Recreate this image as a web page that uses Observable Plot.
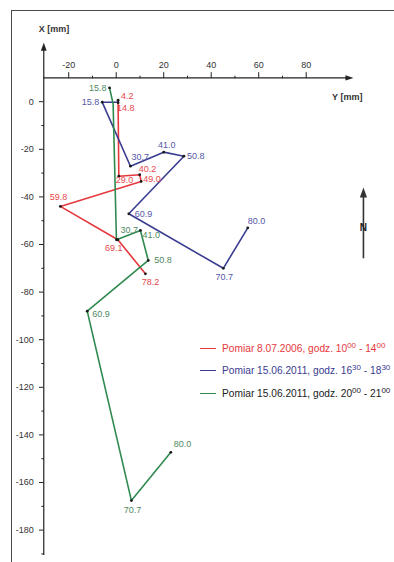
<!DOCTYPE html>
<html><head><meta charset="utf-8">
<script src="https://cdn.jsdelivr.net/npm/d3@7"></script>
<script src="https://cdn.jsdelivr.net/npm/@observablehq/plot@0.6"></script>
<style>
html,body{margin:0;padding:0;background:#fff;overflow:hidden;}
#wrap{position:relative;width:394px;height:562px;overflow:hidden;font-family:"Liberation Sans",Arial,sans-serif;}
#frame{position:absolute;left:11px;top:10px;width:600px;height:700px;border:1px solid #4a4a4a;pointer-events:none;}
.leg{position:absolute;left:200px;font-size:10.2px;line-height:12px;white-space:nowrap;}
.leg i{display:inline-block;width:16px;height:1.6px;vertical-align:middle;margin-right:6px;position:relative;top:-1px;}
.leg sup{font-size:8px;vertical-align:4px;line-height:0;}
</style>
</head><body>
<div id="wrap"><div id="chart"></div><div id="frame"></div><div id="legend"></div></div>
<script>
// ---- data (Y = horizontal [mm], X = vertical [mm]) ----
const redLabels = ["4.2","14.8","29.0","40.2","49.0","59.8","69.1","78.2"];
const redY = [0.8, 0.8, 1.1, 9.9, 10.5, -23.5, 0.7, 12.3];
const redX = [0.6, -0.4, -31.3, -30.7, -33.5, -44.0, -58.0, -72.3];

const blueLabels = ["", "15.8","30.7","41.0","50.8","60.9","70.7","80.0"];
const blueY = [0.8, -5.9, 6.0, 20.0, 28.5, 5.3, 45.1, 55.4];
const blueX = [-0.2, -0.2, -27.1, -21.2, -22.9, -47.1, -70.0, -53.0];

const greenLabels = ["15.8", "", "30.7","41.0","50.8","60.9","70.7","80.0"];
const greenY = [-2.8, -1.3, 0.1, 10.2, 13.5, -12.2, 6.4, 23.0];
const greenX = [5.8, -0.9, -58.0, -54.1, -66.7, -88.0, -167.6, -147.3];

const legendNames = ["Pomiar  8.07.2006, godz. 10<sup>00</sup> - 14<sup>00</sup>",
  "Pomiar 15.06.2011, godz. 16<sup>30</sup> - 18<sup>30</sup>",
  "Pomiar 15.06.2011, godz. 20<sup>00</sup> - 21<sup>00</sup>"];

const hTicks = [-20, 0, 20, 40, 60, 80];
const hMinor = [-10, 10, 30, 50, 70];
const vTicks = [0, -20, -40, -60, -80, -100, -120, -140, -160, -180];
const vMinor = [-10, -30, -50, -70, -90, -110, -130, -150, -170, -190];

// ---- layout / style ----
const colors = {red: "#e5383c", blue: "#3a3c90", green: "#2f8a50"};
const labelColors = {red: "#e6484b", blue: "#5657a8", green: "#4f8a62"};
const legendTextColors = ["#e5383c", "#3a3c90", "#222"];
const legendTops = [343, 365, 388];
// label placement per point: [anchor, dx, dy]
const redPlace = [["start",3,-4],["start",-1,5],["start",-3,4],["start",-1,-6],["start",2,-2],["middle",-2,-9],["middle",-4,8],["middle",5,8]];
const bluePlace = [null,["end",-3,0],["start",1,-9],["middle",3,-7],["start",3,0],["start",6,0],["middle",1,9],["start",0,-7]];
const greenPlace = [["end",-3,0],null,["start",4,-10],["start",2,5],["start",6,0],["start",5,3],["middle",1,10],["start",3,-8]];

const AXIS_X = 10, AXIS_Y = -30.5;
const V_END = -190.7, V_TIP = 24.8, H_TIP = 99.9;
const NORTH = {y: 104.1, x1: -66, x2: -36, n: -53};

const mk = (labels, ys, xs, place) => labels.map((l, i) => ({label: l, y: ys[i], x: xs[i], place: place[i]}));
const series = {
  red: mk(redLabels, redY, redX, redPlace),
  blue: mk(blueLabels, blueY, blueX, bluePlace),
  green: mk(greenLabels, greenY, greenX, greenPlace)
};

const arrowUp = {draw(ctx, size){ const r = Math.sqrt(size/Math.PI); ctx.moveTo(0,0); ctx.lineTo(-r*0.36, r); ctx.lineTo(r*0.36, r); ctx.closePath(); }};
const arrowRight = {draw(ctx, size){ const r = Math.sqrt(size/Math.PI); ctx.moveTo(0,0); ctx.lineTo(-r, -r*0.32); ctx.lineTo(-r, r*0.32); ctx.closePath(); }};

const font = "Liberation Sans, Arial, sans-serif";
const marks = [];
// axes
marks.push(Plot.ruleY([AXIS_X], {x1: AXIS_Y, x2: H_TIP - 2, stroke: "#222", strokeWidth: 1.2}));
marks.push(Plot.ruleX([AXIS_Y], {y1: V_END, y2: V_TIP - 2, stroke: "#222", strokeWidth: 1.2}));
marks.push(Plot.dot([0], {x: H_TIP, y: AXIS_X, r: 8, symbol: arrowRight, fill: "#222", stroke: "none"}));
marks.push(Plot.dot([0], {x: AXIS_Y, y: V_TIP, r: 8, symbol: arrowUp, fill: "#222", stroke: "none"}));
marks.push(Plot.ruleX(hTicks, {x: d => d, y1: AXIS_X - 0.3, y2: AXIS_X + 2.2, stroke: "#222"}));
marks.push(Plot.ruleX(hMinor, {x: d => d, y1: AXIS_X - 0.4, y2: AXIS_X + 0.7, stroke: "#222"}));
marks.push(Plot.ruleY(vTicks, {y: d => d, x1: AXIS_Y - 1.8, x2: AXIS_Y, stroke: "#222"}));
marks.push(Plot.ruleY(vMinor, {y: d => d, x1: AXIS_Y - 0.8, x2: AXIS_Y + 0.3, stroke: "#222"}));
marks.push(Plot.text(hTicks, {x: d => d, y: AXIS_X, dy: -12.5, text: d => String(d), fontSize: 9, fill: "#333", fontFamily: font}));
marks.push(Plot.text(vTicks, {x: AXIS_Y, y: d => d, dx: -10, text: d => String(d), textAnchor: "end", fontSize: 9, fill: "#333", fontFamily: font}));
marks.push(Plot.text(["X [mm]"], {x: AXIS_Y, y: V_TIP, dx: -5, dy: -14, text: d => d, textAnchor: "start", fontSize: 9, fontWeight: "bold", fill: "#333", fontFamily: font}));
marks.push(Plot.text(["Y [mm]"], {x: H_TIP, y: AXIS_X, dx: 9, dy: 19, text: d => d, textAnchor: "end", fontSize: 9, fontWeight: "bold", fill: "#333", fontFamily: font}));
// north arrow
marks.push(Plot.ruleX([NORTH.y], {y1: NORTH.x1, y2: NORTH.x2 - 2, stroke: "#333", strokeWidth: 1.6}));
marks.push(Plot.dot([0], {x: NORTH.y, y: NORTH.x2, r: 10, symbol: arrowUp, fill: "#333", stroke: "none"}));
marks.push(Plot.text(["N"], {x: NORTH.y, y: NORTH.n, text: d => d, fontSize: 10, fontWeight: "bold", fill: "#222", fontFamily: font}));
// series
for (const key of ["red", "blue", "green"]) {
  const data = series[key];
  marks.push(Plot.line(data, {x: "y", y: "x", stroke: colors[key], strokeWidth: 1.6, curve: "linear"}));
}
for (const key of ["red", "blue", "green"]) {
  const data = series[key].filter(d => d.label);
  marks.push(Plot.dot(data, {x: "y", y: "x", r: 1.4, fill: "#1a1a1a", stroke: "none"}));
  for (const d of data) {
    const [anchor, dx, dy] = d.place;
    marks.push(Plot.text([d], {x: "y", y: "x", text: "label", textAnchor: anchor, dx, dy, fontSize: 9, fill: labelColors[key], fontFamily: font}));
  }
}

const chart = Plot.plot({
  width: 394, height: 562,
  marginTop: 0, marginRight: 0, marginBottom: 0, marginLeft: 0,
  x: {domain: [-48.72, 117.18], axis: null},
  y: {domain: [-193.61, 42.52], axis: null},
  style: {background: "#fff", fontFamily: font, overflow: "visible"},
  marks
});
document.getElementById("chart").appendChild(chart);

const legend = document.getElementById("legend");
["red", "blue", "green"].forEach((key, i) => {
  const row = document.createElement("div");
  row.className = "leg";
  row.style.top = legendTops[i] + "px";
  row.style.color = legendTextColors[i];
  row.innerHTML = `<i style="background:${colors[key]}"></i>` + legendNames[i];
  legend.appendChild(row);
});
</script>
</body></html>
